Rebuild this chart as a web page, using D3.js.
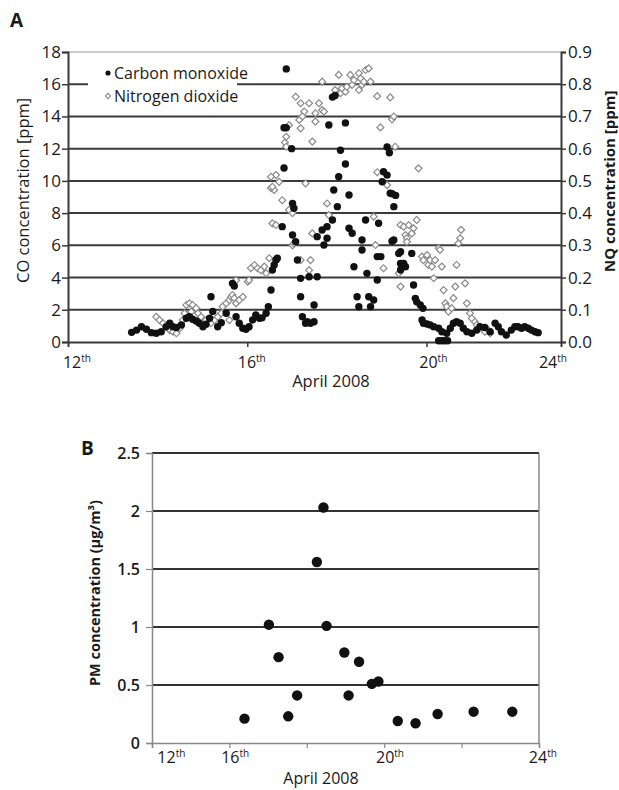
<!DOCTYPE html>
<html>
<head>
<meta charset="utf-8">
<script src="https://cdn.jsdelivr.net/npm/d3@7"></script>
<style>
body { margin: 0; background: #fff; }
text { font-family: "Open Sans", sans-serif; fill: #1a1a1a; }
</style>
</head>
<body>
<svg id="chart" width="619" height="790"></svg>
<script>
// Panel A - carbon monoxide, [day of April, ppm]
var co_points = [
    [13.42,0.6],[13.53,0.74],[13.64,0.95],[13.75,0.79],[13.86,0.58],[13.97,0.54],[14.08,0.64],
    [14.19,0.95],[14.27,1.16],[14.34,0.95],[14.42,0.9],[14.53,1.06],[14.64,1.47],[14.71,1.57],
    [14.78,1.41],[14.86,1.3],[14.93,1.16],[15.01,0.95],[15.08,1.1],[15.16,1.47],[15.19,2.81],
    [15.23,1.9],[15.34,0.95],[15.42,1.2],[15.53,1.78],[15.67,3.64],[15.71,3.48],[15.75,1.57],
    [15.82,1.16],[15.9,0.85],[15.97,0.79],[16.04,0.95],[16.12,1.37],[16.19,1.68],[16.27,1.47],
    [16.33,1.5],[16.42,1.78],[16.47,2.19],[16.53,3.23],[16.56,4.47],[16.6,4.78],[16.64,5.09],
    [16.67,5.2],[16.78,7.16],[16.82,10.8],[16.82,13.3],[16.87,13.3],[16.87,16.95],[16.99,12.0],
    [17.01,8.6],[17.04,8.3],[17.01,6.64],[17.08,6.23],[17.12,5.09],[17.19,3.95],[17.19,2.81],
    [17.23,1.57],[17.3,1.16],[17.34,1.26],[17.41,1.16],[17.49,1.26],[17.49,2.3],[17.38,4.05],
    [17.56,4.05],[17.67,6.95],[17.56,6.54],[17.71,6.02],[17.78,7.16],[17.78,6.44],[17.9,7.57],
    [18.01,8.4],[17.93,9.43],[18.04,10.26],[18.19,11.05],[18.08,11.9],[17.82,13.47],[18.19,13.6],
    [17.9,15.2],[17.96,15.3],[18.27,9.12],[18.27,7.06],[18.34,6.75],[18.38,4.67],[18.45,2.81],
    [18.49,2.19],[18.56,6.33],[18.56,5.71],[18.64,7.57],[18.67,4.26],[18.71,2.81],[18.75,2.19],
    [18.82,2.61],[18.9,3.85],[18.93,7.37],[18.9,5.3],[18.98,5.3],[19.01,9.95],[19.04,10.57],
    [19.12,10.36],[19.12,12.1],[19.17,11.75],[19.19,9.23],[19.23,9.2],[19.31,9.1],[19.27,8.4],
    [19.27,6.33],[19.23,6.25],[19.38,5.5],[19.42,5.6],[19.42,4.88],[19.42,4.47],[19.45,4.78],
    [19.49,4.88],[19.53,4.67],[19.67,5.5],[19.71,3.54],[19.75,2.71],[19.78,2.5],[19.86,2.3],
    [19.92,2.09],[19.9,1.37],[19.93,1.16],[20.01,1.12],[20.08,1.06],[20.16,0.95],[20.27,0.85],
    [20.34,0.64],[20.27,0.08],[20.34,0.08],[20.4,0.08],[20.47,0.08],[20.45,0.54],[20.53,0.85],
    [20.6,1.16],[20.67,1.26],[20.75,1.16],[20.82,0.85],[20.9,0.64],[21.01,0.54],[21.12,0.74],
    [21.19,0.95],[21.3,0.9],[21.42,0.64],[21.53,1.16],[21.6,0.95],[21.67,0.64],[21.78,0.43],
    [21.89,0.74],[21.97,0.95],[22.04,0.95],[22.12,0.85],[22.19,0.95],[22.27,0.85],[22.34,0.74],
    [22.42,0.64],[22.49,0.58]
];

// Panel A - nitrogen dioxide, [day of April, ppm]
var no2_points = [
    [13.97,0.078],[14.04,0.068],[14.12,0.058],[14.19,0.047],[14.27,0.037],[14.34,0.032],[14.42,0.027],
    [14.49,0.042],[14.56,0.068],[14.6,0.089],[14.64,0.115],[14.71,0.12],[14.78,0.115],[14.86,0.105],
    [14.75,0.094],[14.9,0.089],[14.97,0.078],[15.08,0.068],[15.19,0.058],[15.27,0.068],[15.34,0.078],
    [15.42,0.089],[15.45,0.11],[15.53,0.12],[15.6,0.13],[15.64,0.14],[15.67,0.146],[15.71,0.136],
    [15.75,0.12],[15.6,0.068],[15.75,0.192],[15.82,0.13],[15.9,0.14],[16.01,0.187],[16.04,0.192],
    [16.08,0.229],[16.16,0.239],[16.23,0.229],[16.3,0.223],[16.38,0.234],[16.42,0.213],[16.49,0.26],
    [16.56,0.368],[16.64,0.363],[16.53,0.477],[16.6,0.472],[16.56,0.482],[16.64,0.518],[16.53,0.513],
    [16.71,0.497],[16.78,0.44],[16.93,0.41],[17.01,0.4],[17.01,0.3],[17.04,0.306],[16.84,0.619],
    [16.87,0.637],[16.87,0.606],[16.93,0.673],[17.08,0.761],[17.19,0.741],[17.27,0.715],[17.16,0.689],
    [17.19,0.663],[17.3,0.492],[17.19,0.254],[17.38,0.223],[17.41,0.254],[17.45,0.337],[17.38,0.741],
    [17.23,0.7],[17.45,0.622],[17.52,0.71],[17.52,0.684],[17.6,0.741],[17.67,0.72],[17.71,0.715],
    [17.67,0.808],[17.78,0.43],[17.82,0.394],[17.96,0.782],[18.08,0.772],[18.04,0.829],[18.11,0.787],
    [18.19,0.777],[18.22,0.792],[18.3,0.829],[18.34,0.798],[18.38,0.813],[18.49,0.834],[18.49,0.782],
    [18.53,0.818],[18.56,0.798],[18.6,0.808],[18.64,0.844],[18.71,0.849],[18.75,0.808],[18.82,0.389],
    [18.86,0.301],[18.9,0.763],[18.9,0.527],[18.97,0.666],[19.04,0.229],[19.12,0.487],[19.19,0.759],
    [19.23,0.691],[19.27,0.7],[19.3,0.606],[19.38,0.213],[19.42,0.172],[19.42,0.363],[19.49,0.358],
    [19.6,0.363],[19.53,0.332],[19.56,0.322],[19.56,0.311],[19.67,0.337],[19.71,0.353],[19.78,0.379],
    [19.82,0.539],[19.9,0.265],[19.93,0.254],[20.01,0.27],[20.04,0.239],[20.08,0.254],[20.12,0.234],
    [20.19,0.254],[20.16,0.198],[20.27,0.291],[20.3,0.286],[20.34,0.234],[20.38,0.161],[20.42,0.12],
    [20.45,0.11],[20.49,0.094],[20.56,0.105],[20.6,0.136],[20.64,0.172],[20.67,0.239],[20.71,0.306],
    [20.75,0.322],[20.77,0.348],[20.86,0.182],[20.9,0.12],[20.97,0.089],[21.01,0.073],[21.08,0.063],
    [21.12,0.053],[21.19,0.047],[21.27,0.042],[21.3,0.032],[21.38,0.037],[21.42,0.027]
];

var co_ticks = [0, 2, 4, 6, 8, 10, 12, 14, 16, 18];
var no2_ticks = [0, 0.1, 0.2, 0.3, 0.4, 0.5, 0.6, 0.7, 0.8, 0.9];
var a_label_days = [12.2, 16.1, 20.15, 22.82];
var a_day_labels = ['12', '16', '20', '24'];

// Panel B - particulate matter
var pm_day = [16.39, 17.02, 17.27, 17.52, 17.75, 18.26, 18.43, 18.51, 18.97, 19.08, 19.35, 19.68, 19.85, 20.35, 20.81, 21.38, 22.31, 23.31];
var pm_value = [0.21, 1.02, 0.74, 0.23, 0.41, 1.56, 2.03, 1.01, 0.78, 0.41, 0.70, 0.51, 0.53, 0.19, 0.17, 0.25, 0.27, 0.27];
var pm_ticks = [0, 0.5, 1, 1.5, 2, 2.5];
var b_day_ticks = [14, 16, 18, 20, 22, 24];
var b_label_days = [14.5, 16.15, 20.15, 24.1];
var b_day_labels = ['12', '16', '20', '24'];

var svg = d3.select('#chart');

// day label with superscript "th"
function dayLabel(g, x, y, num) {
    var t = g.append('text')
        .attr('x', x)
        .attr('y', y)
        .attr('text-anchor', 'middle')
        .style('font-size', '16px');
    t.append('tspan').text(num);
    t.append('tspan').attr('dy', -6).style('font-size', '10px').text('th');
}

// ================= Panel A =================
var a_left = 68, a_right = 561, a_top = 52, a_bottom = 342;

var a_x = d3.scaleLinear().domain([12, 23]).range([a_left, a_right]);
var a_yco = d3.scaleLinear().domain([0, 18]).range([a_bottom, a_top]);
var a_yno = d3.scaleLinear().domain([0, 0.9]).range([a_bottom, a_top]);

var ga = svg.append('g');

// gridlines
ga.selectAll('.grid')
    .data(co_ticks.slice(1))
    .enter()
    .append('line')
    .attr('x1', a_left)
    .attr('x2', a_right)
    .attr('y1', function(d) { return a_yco(d); })
    .attr('y2', function(d) { return a_yco(d); })
    .attr('stroke', function(d) { return d == 18 ? '#999' : '#3a3a3a'; })
    .attr('stroke-width', function(d) { return d == 18 ? 1.2 : 2; });

// axes
var a_axis_left = d3.axisLeft(a_yco).tickValues(co_ticks).tickSize(6).tickPadding(1);
ga.append('g')
    .attr('transform', 'translate(' + a_left + ',0)')
    .call(a_axis_left);

var a_axis_right = d3.axisRight(a_yno).tickValues(no2_ticks).tickSize(5).tickPadding(2)
    .tickFormat(d3.format('.1f'));
ga.append('g')
    .attr('transform', 'translate(' + a_right + ',0)')
    .call(a_axis_right);

var a_axis_bottom = d3.axisBottom(a_x).tickValues([16, 20]).tickSize(5).tickFormat('');
ga.append('g')
    .attr('transform', 'translate(0,' + a_bottom + ')')
    .call(a_axis_bottom);

ga.selectAll('.domain').attr('stroke', '#3a3a3a').attr('stroke-width', 2);
ga.selectAll('.tick line').attr('stroke', '#3a3a3a').attr('stroke-width', 1.5);
ga.selectAll('.tick text').style('font-size', '17px').attr('fill', '#1a1a1a');

a_label_days.forEach(function(d, i) {
    dayLabel(ga, a_x(d), 368, a_day_labels[i]);
});

// markers
var diamond = d3.symbol().type(d3.symbolSquare).size(24);
ga.append('g')
    .selectAll('path')
    .data(no2_points)
    .enter()
    .append('path')
    .attr('d', diamond)
    .attr('transform', function(d) {
        return 'translate(' + a_x(d[0]) + ',' + a_yno(d[1]) + ') rotate(45)';
    })
    .attr('fill', '#fff')
    .attr('stroke', '#8a8a8a')
    .attr('stroke-width', 1.2);

ga.append('g')
    .selectAll('circle')
    .data(co_points)
    .enter()
    .append('circle')
    .attr('cx', function(d) { return a_x(d[0]); })
    .attr('cy', function(d) { return a_yco(d[1]); })
    .attr('r', 3.7)
    .attr('fill', '#111');

// legend
var leg = ga.append('g');
leg.append('rect')
    .attr('x', 88).attr('y', 60)
    .attr('width', 149).attr('height', 46)
    .attr('fill', '#fff');
leg.append('circle').attr('cx', 108).attr('cy', 73).attr('r', 2.6).attr('fill', '#111');
leg.append('path')
    .attr('d', d3.symbol().type(d3.symbolSquare).size(14))
    .attr('transform', 'translate(108,96) rotate(45)')
    .attr('fill', '#fff').attr('stroke', '#8a8a8a').attr('stroke-width', 1.1);
leg.append('text').attr('x', 114).attr('y', 79).style('font-size', '16px').text('Carbon monoxide');
leg.append('text').attr('x', 114).attr('y', 102).style('font-size', '16px').text('Nitrogen dioxide');

// titles
ga.append('text')
    .attr('x', 10).attr('y', 27)
    .style('font-size', '19px').style('font-weight', 'bold')
    .text('A');
ga.append('text')
    .attr('transform', 'translate(29,283) rotate(-90)')
    .style('font-size', '16.5px')
    .text('CO concentration [ppm]');
ga.append('text')
    .attr('transform', 'translate(615,272) rotate(-90)')
    .style('font-size', '15px').style('font-weight', 'bold')
    .text('NQ concentration [ppm]');
ga.append('text')
    .attr('x', 331).attr('y', 387)
    .attr('text-anchor', 'middle')
    .style('font-size', '16.5px')
    .text('April 2008');

// ================= Panel B =================
var b_left = 152, b_right = 539, b_top = 453, b_bottom = 743;

var b_x = d3.scaleLinear().domain([14, 24]).range([b_left, b_right]);
var b_y = d3.scaleLinear().domain([0, 2.5]).range([b_bottom, b_top]);

var gb = svg.append('g');

gb.selectAll('.grid')
    .data(pm_ticks.slice(1))
    .enter()
    .append('line')
    .attr('x1', b_left)
    .attr('x2', b_right)
    .attr('y1', function(d) { return b_y(d); })
    .attr('y2', function(d) { return b_y(d); })
    .attr('stroke', '#333')
    .attr('stroke-width', 2);

gb.append('line')
    .attr('x1', b_right).attr('x2', b_right)
    .attr('y1', b_top).attr('y2', b_bottom)
    .attr('stroke', '#888').attr('stroke-width', 1.5);

var b_axis_left = d3.axisLeft(b_y).tickValues(pm_ticks).tickSize(6).tickPadding(6)
    .tickFormat(function(d) { return String(d); });
gb.append('g')
    .attr('transform', 'translate(' + b_left + ',0)')
    .call(b_axis_left);

var b_axis_bottom = d3.axisBottom(b_x).tickValues(b_day_ticks).tickSize(5).tickFormat('');
gb.append('g')
    .attr('transform', 'translate(0,' + b_bottom + ')')
    .call(b_axis_bottom);

gb.selectAll('.domain').attr('stroke', '#888').attr('stroke-width', 1.5);
gb.selectAll('.tick line').attr('stroke', '#888').attr('stroke-width', 1.2);
gb.selectAll('.tick text').style('font-size', '16px').style('font-weight', '600').attr('fill', '#1a1a1a');

b_label_days.forEach(function(d, i) {
    dayLabel(gb, b_x(d), 763, b_day_labels[i]);
});

gb.append('g')
    .selectAll('circle')
    .data(pm_day)
    .enter()
    .append('circle')
    .attr('cx', function(d) { return b_x(d); })
    .attr('cy', function(d, i) { return b_y(pm_value[i]); })
    .attr('r', 5.2)
    .attr('fill', '#111');

gb.append('text')
    .attr('x', 81).attr('y', 455)
    .style('font-size', '19px').style('font-weight', 'bold')
    .text('B');
gb.append('text')
    .attr('transform', 'translate(100,686) rotate(-90)')
    .style('font-size', '14.5px').style('font-weight', 'bold')
    .text('PM concentration (\u00b5g/m\u00b3)');
gb.append('text')
    .attr('x', 321).attr('y', 784)
    .attr('text-anchor', 'middle')
    .style('font-size', '16px')
    .text('April 2008');
</script>
</body>
</html>
